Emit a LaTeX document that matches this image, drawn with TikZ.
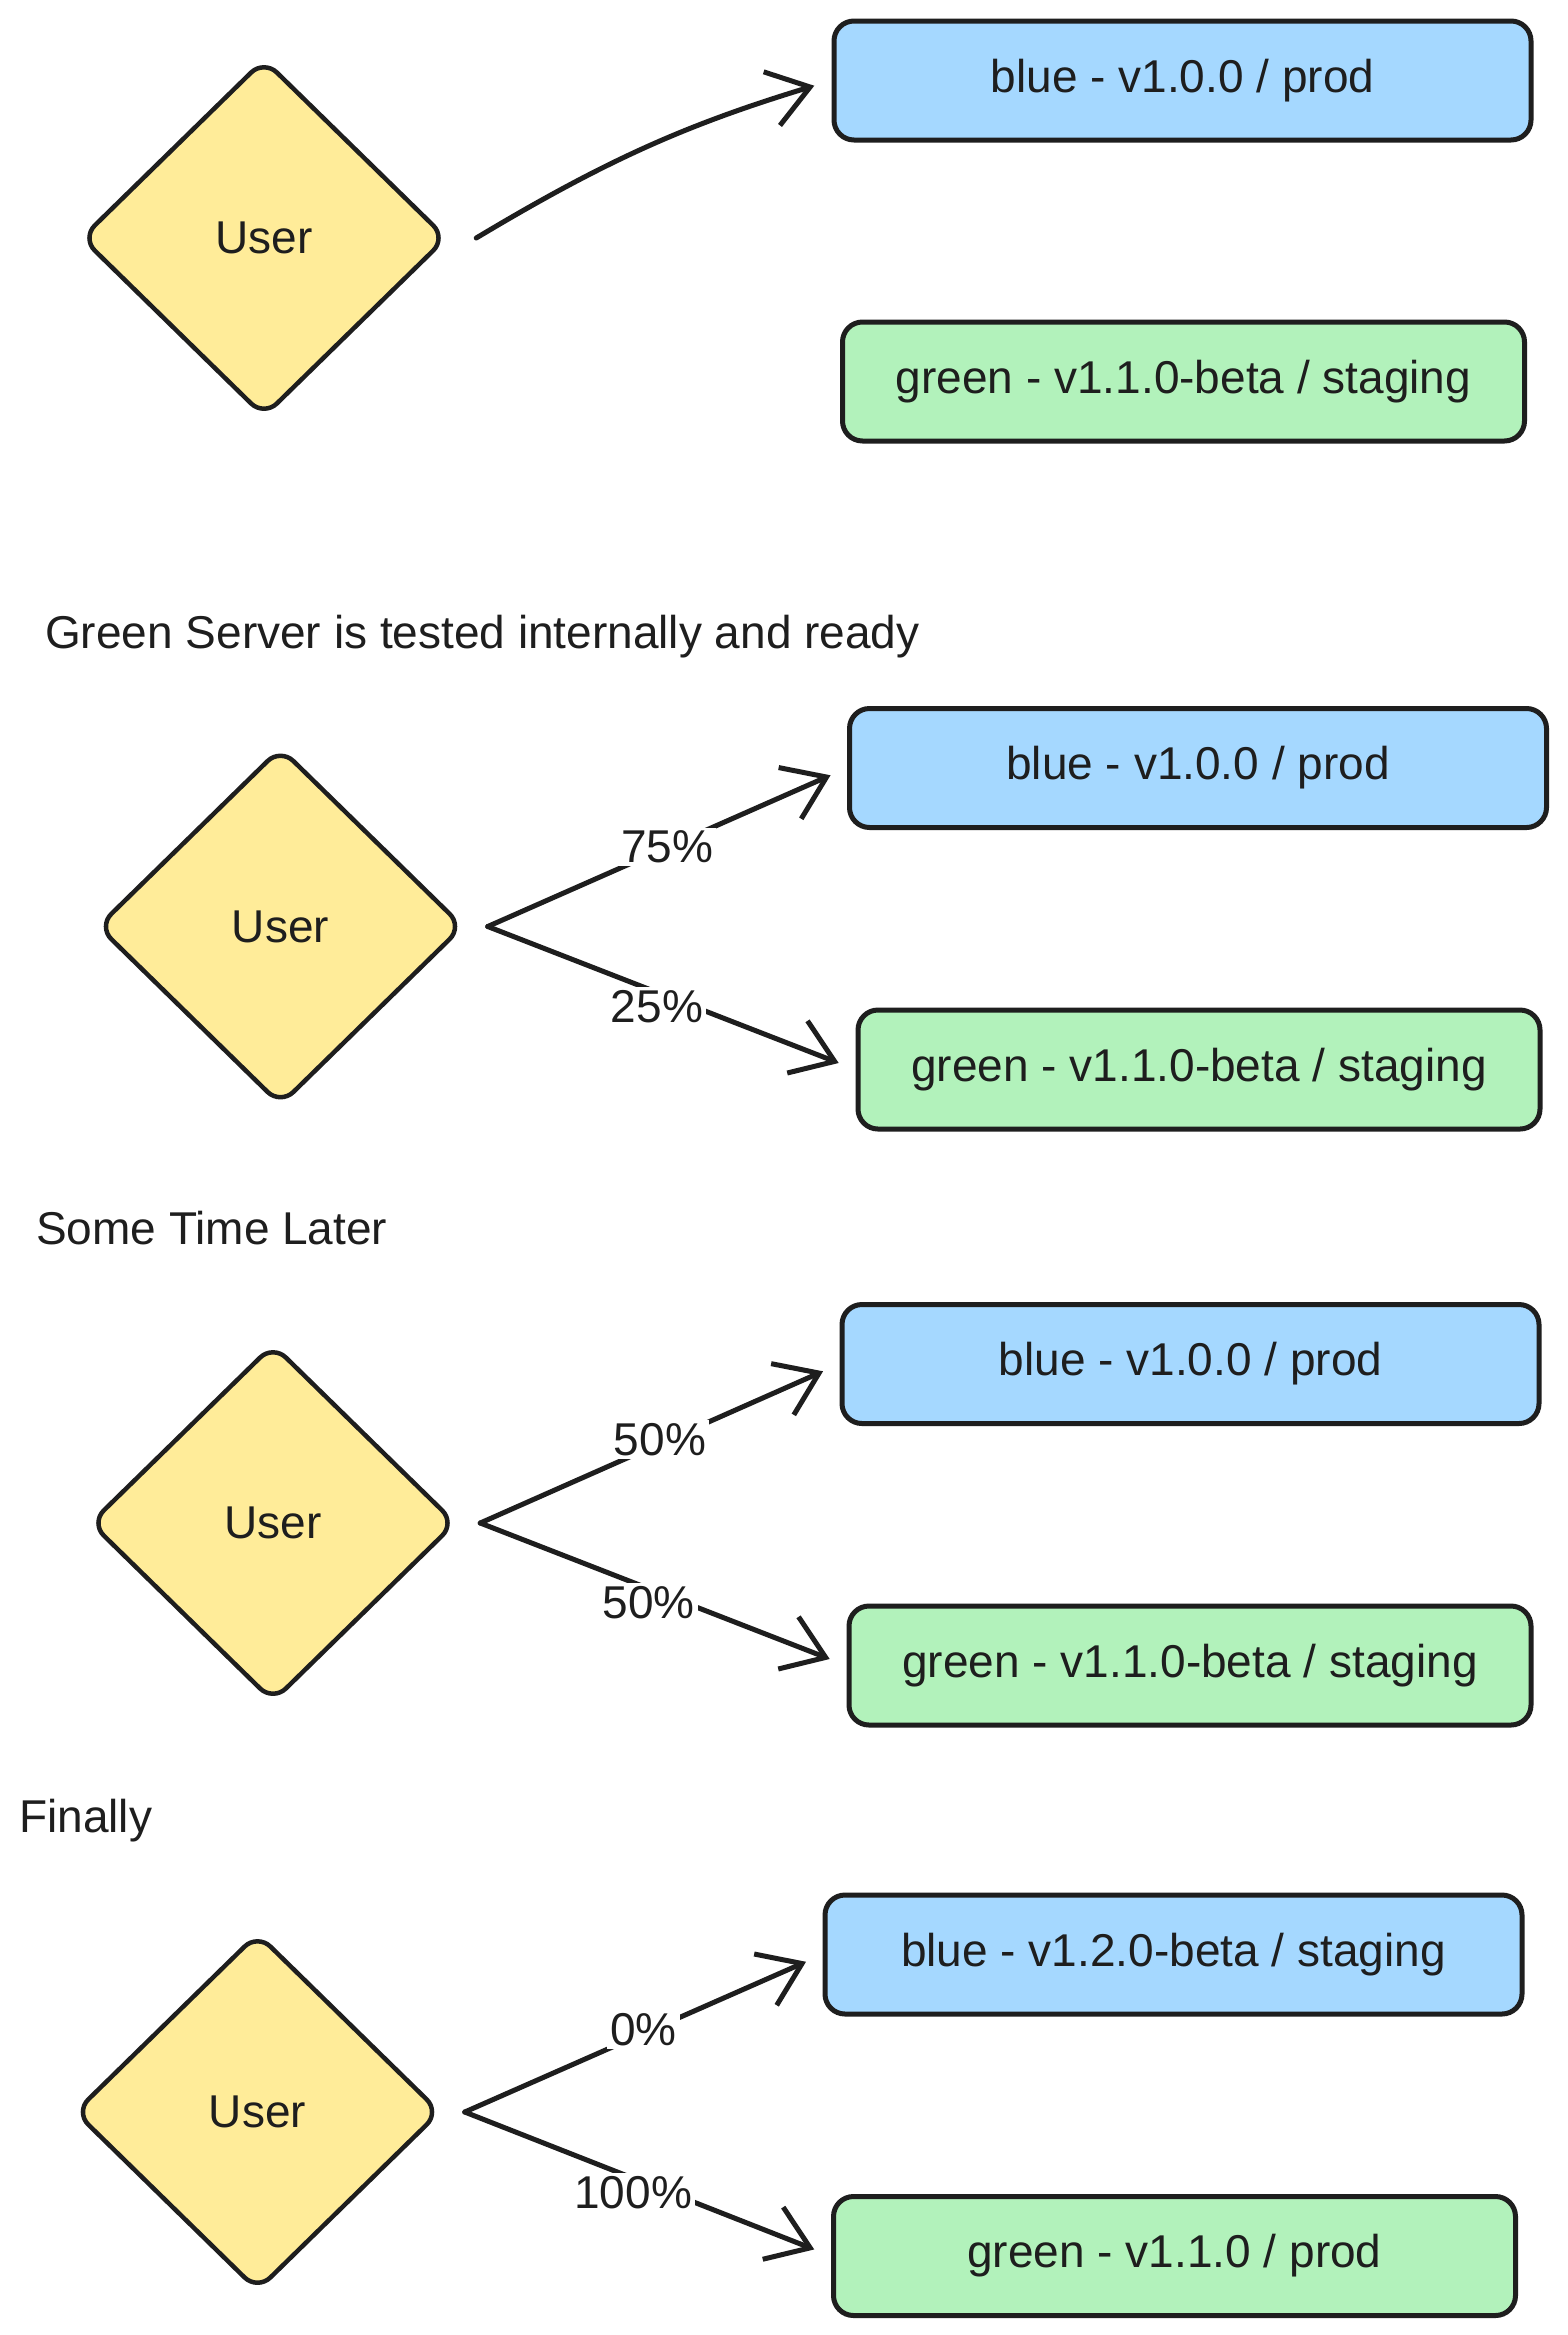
\documentclass[tikz,border=0pt]{standalone}
\usepackage{fontspec}
\setmainfont{Liberation Sans}
\usetikzlibrary{shapes.geometric,arrows.meta}
\definecolor{ink}{HTML}{1E1E1E}
\definecolor{bluefill}{HTML}{A5D8FF}
\definecolor{greenfill}{HTML}{B2F2BB}
\definecolor{yellowfill}{HTML}{FFEC99}
\begin{document}
\begin{tikzpicture}[x=1pt,y=-1pt,
  font=\fontsize{46}{54}\selectfont,
  userbox/.style={diamond, draw=ink, line width=4.5pt, fill=yellowfill, minimum width=366pt, minimum height=358pt, inner sep=0pt, rounded corners=18pt, text=ink},
  srvbox/.style={rectangle, draw=ink, line width=5pt, minimum height=119pt, rounded corners=20pt, text=ink},
  bluebox/.style={srvbox, fill=bluefill, minimum width=697pt},
  greenbox/.style={srvbox, fill=greenfill, minimum width=682pt},
  flow/.style={draw=ink, line width=5pt, -{Straight Barb[length=40pt,width=56pt]}, shorten >=18pt, line cap=round},
  pct/.style={fill=white, inner sep=3pt, text=ink},
  caption/.style={anchor=base west, text=ink, inner sep=0pt}
]
\useasboundingbox[fill=white] (0,0) rectangle (1567,2335);

% Panel 1
\node[userbox] (u1) at (264,238) {User};
\node[bluebox] (b1) at (1182.5,80.5) {blue - v1.0.0 / prod};
\node[greenbox] (g1) at (1183.5,381.5) {green - v1.1.0-beta / staging};
\coordinate (s1) at ([xshift=27pt]u1.east);
\draw[flow] (s1) to[bend left=7] (b1.west);

% Caption 1
\node[caption] (c1) at (45,648) {Green Server is tested internally and ready};

% Panel 2
\node[userbox] (u2) at (280.5,926.5) {User};
\node[bluebox] (b2) at (1198,768) {blue - v1.0.0 / prod};
\node[greenbox] (g2) at (1199,1069.5) {green - v1.1.0-beta / staging};
\coordinate (s2) at ([xshift=22pt]u2.east);
\draw[flow] (s2) -- node[pct, pos=0.5] (l2a) {75\%} (b2.west);
\draw[flow] (s2) -- node[pct, pos=0.46, yshift=-14pt] (l2b) {25\%} (g2.west);

% Caption 2
\node[caption] (c2) at (36,1244) {Some Time Later};

% Panel 3
\node[userbox] (u3) at (273,1523) {User};
\node[bluebox] (b3) at (1190.5,1364) {blue - v1.0.0 / prod};
\node[greenbox] (g3) at (1190,1665.5) {green - v1.1.0-beta / staging};
\coordinate (s3) at ([xshift=22pt]u3.east);
\draw[flow] (s3) -- node[pct, pos=0.5, yshift=4pt] (l3a) {50\%} (b3.west);
\draw[flow] (s3) -- node[pct, pos=0.46, yshift=-14pt] (l3b) {50\%} (g3.west);

% Caption 3
\node[caption] (c3) at (19,1832) {Finally};

% Panel 4
\node[userbox] (u4) at (257.5,2112) {User};
\node[bluebox] (b4) at (1173.5,1954.5) {blue - v1.2.0-beta / staging};
\node[greenbox] (g4) at (1174.5,2256) {green - v1.1.0 / prod};
\coordinate (s4) at ([xshift=22pt]u4.east);
\draw[flow] (s4) -- node[pct, pos=0.5, yshift=4pt] (l4a) {0\%} (b4.west);
\draw[flow] (s4) -- node[pct, pos=0.46, yshift=-14pt] (l4b) {100\%} (g4.west);
\end{tikzpicture}
\end{document}
